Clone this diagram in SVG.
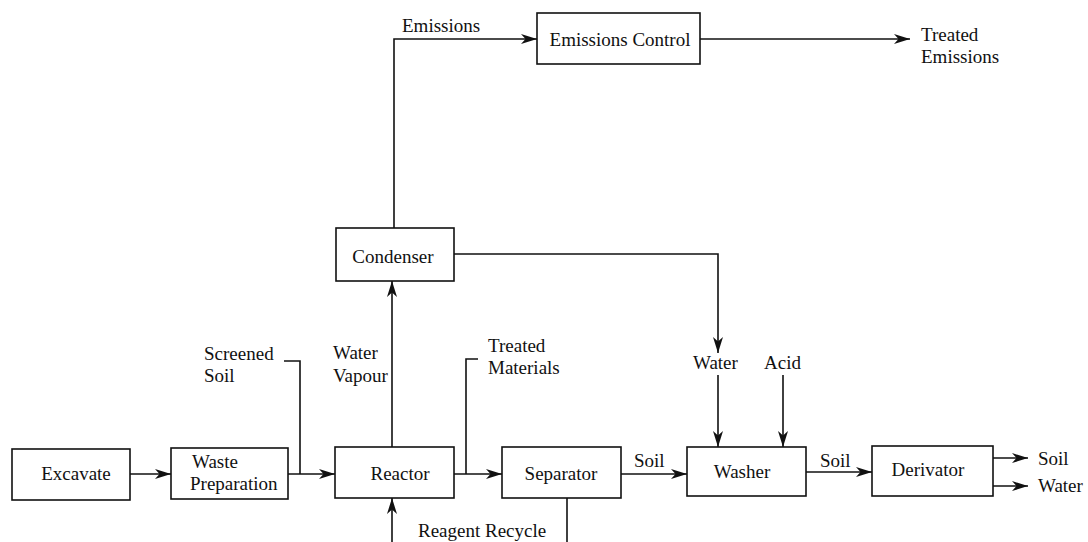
<svg xmlns="http://www.w3.org/2000/svg" width="1088" height="542" viewBox="0 0 1088 542">
  <style>
    .box { fill: #ffffff; stroke: #111111; stroke-width: 1.6; }
    .lbl { font-family: "Liberation Serif", "Times New Roman", serif; font-size: 19px; fill: #111111; }
    .mid { text-anchor: middle; }
    .wire { fill: none; stroke: #111111; stroke-width: 1.6; }
    .flow { fill: none; stroke: #111111; stroke-width: 1.6; marker-end: url(#head); }
  </style>
  <defs>
    <marker id="head" markerUnits="userSpaceOnUse" markerWidth="18" markerHeight="12" refX="16" refY="6" orient="auto">
      <path d="M0,1 L16,6 L0,11 L4.5,6 Z" fill="#111111"/>
    </marker>
  </defs>
  <rect width="1088" height="542" fill="#ffffff"/>

  <!-- connectors -->
  <g id="connectors">
    <line class="flow" x1="130" y1="474" x2="171" y2="474"/>
    <line class="flow" x1="288" y1="474" x2="335" y2="474"/>
    <polyline class="wire" points="284,361 300,361 300,474"/>
    <line class="flow" x1="454" y1="474" x2="502" y2="474"/>
    <polyline class="wire" points="478,359 466,359 466,474"/>
    <line class="flow" x1="621" y1="474" x2="687" y2="474"/>
    <line class="flow" x1="806" y1="472" x2="872" y2="472"/>
    <line class="flow" x1="993" y1="458" x2="1028" y2="458"/>
    <line class="flow" x1="993" y1="486" x2="1028" y2="486"/>
    <line class="flow" x1="392" y1="447" x2="392" y2="281"/>
    <line class="flow" x1="392" y1="542" x2="392" y2="498"/>
    <line class="wire" x1="567" y1="498" x2="567" y2="542"/>
    <polyline class="flow" points="394,228 394,39 537,39"/>
    <line class="flow" x1="700" y1="39" x2="910" y2="39"/>
    <polyline class="flow" points="454,254 718,254 718,353"/>
    <line class="flow" x1="718" y1="375" x2="718" y2="447"/>
    <line class="flow" x1="783" y1="375" x2="783" y2="447"/>
  </g>

  <!-- stream labels -->
  <g id="labels">
    <text class="lbl" x="204" y="360">Screened</text>
    <text class="lbl" x="204" y="382">Soil</text>
    <text class="lbl" x="333" y="359">Water</text>
    <text class="lbl" x="333" y="382">Vapour</text>
    <text class="lbl" x="488" y="352">Treated</text>
    <text class="lbl" x="488" y="374">Materials</text>
    <text class="lbl" x="418" y="537">Reagent Recycle</text>
    <text class="lbl" x="634" y="467">Soil</text>
    <text class="lbl" x="820" y="467">Soil</text>
    <text class="lbl" x="1038" y="465">Soil</text>
    <text class="lbl" x="1038" y="492">Water</text>
    <text class="lbl" x="693" y="369">Water</text>
    <text class="lbl" x="764" y="369">Acid</text>
    <text class="lbl" x="402" y="32">Emissions</text>
    <text class="lbl" x="921" y="41">Treated</text>
    <text class="lbl" x="921" y="63">Emissions</text>
  </g>

  <!-- process units -->
  <g id="excavate">
    <rect class="box" x="12" y="449" width="118" height="51"/>
    <text class="lbl mid" x="76" y="480">Excavate</text>
  </g>
  <g id="waste-preparation">
    <rect class="box" x="171" y="448" width="117" height="51"/>
    <text class="lbl" x="192" y="468">Waste</text>
    <text class="lbl" x="190" y="490">Preparation</text>
  </g>
  <g id="reactor">
    <rect class="box" x="335" y="447" width="119" height="51"/>
    <text class="lbl mid" x="400" y="480">Reactor</text>
  </g>
  <g id="separator">
    <rect class="box" x="502" y="447" width="119" height="51"/>
    <text class="lbl mid" x="561" y="480">Separator</text>
  </g>
  <g id="washer">
    <rect class="box" x="687" y="447" width="119" height="49"/>
    <text class="lbl mid" x="742" y="478">Washer</text>
  </g>
  <g id="derivator">
    <rect class="box" x="872" y="446" width="121" height="50"/>
    <text class="lbl mid" x="928" y="476">Derivator</text>
  </g>
  <g id="condenser">
    <rect class="box" x="336" y="228" width="118" height="53"/>
    <text class="lbl mid" x="393" y="263">Condenser</text>
  </g>
  <g id="emissions-control">
    <rect class="box" x="537" y="13" width="163" height="51"/>
    <text class="lbl mid" x="620" y="46">Emissions Control</text>
  </g>
</svg>
